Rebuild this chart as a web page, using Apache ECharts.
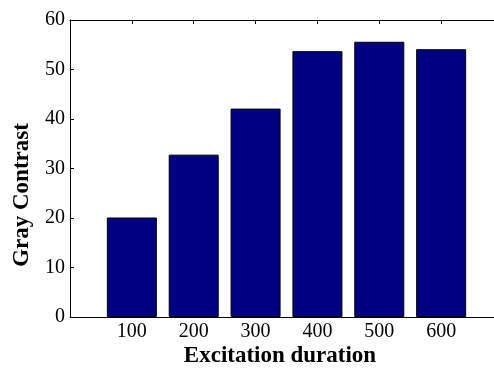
<!DOCTYPE html>
<html>
<head>
<meta charset="utf-8">
<script src="https://cdn.jsdelivr.net/npm/echarts@6/dist/echarts.min.js"></script>
<style>html,body{margin:0;padding:0;background:#fff;overflow:hidden}#c{width:494px;height:374px}</style>
</head>
<body>
<div id="c"></div>
<script>
var categories = [100, 200, 300, 400, 500, 600];
var grayContrast = [20.1, 32.8, 42.1, 53.7, 55.6, 54.1];
var yTicks = [0, 10, 20, 30, 40, 50, 60];
var xTitle = 'Excitation duration';
var yTitle = 'Gray Contrast';

var FONT = '"Liberation Serif", "Times New Roman", serif';
var chart = echarts.init(document.getElementById('c'), null, {renderer: 'canvas'});
var barData = categories.map(function (c, i) { return [c, grayContrast[i]]; });
var gridBox = {left: 70, top: 20, width: 433, height: 297, containLabel: false, outerBoundsMode: 'none'};

chart.setOption({
  animation: false,
  backgroundColor: '#fff',
  grid: [Object.assign({}, gridBox), Object.assign({}, gridBox)],
  xAxis: [{
    gridIndex: 0,
    type: 'value', min: 0, max: 700, interval: 100, position: 'bottom',
    axisLine: {show: true, onZero: false, lineStyle: {color: '#000', width: 1}},
    axisTick: {show: true, inside: true, length: 4, lineStyle: {color: '#000'}},
    splitLine: {show: false},
    axisLabel: {
      color: '#000', fontFamily: FONT, fontSize: 20, margin: 5,
      formatter: function (v) { return categories.indexOf(v) >= 0 ? String(v) : ''; }
    }
  }, {
    gridIndex: 1,
    type: 'value', min: 0, max: 700, interval: 100, position: 'top',
    axisLine: {show: true, onZero: false, lineStyle: {color: '#000', width: 1}},
    axisTick: {show: true, inside: true, length: 4, lineStyle: {color: '#000'}},
    splitLine: {show: false},
    axisLabel: {show: false}
  }],
  yAxis: [{
    gridIndex: 0,
    type: 'value', min: yTicks[0], max: yTicks[yTicks.length - 1], interval: 10,
    axisLine: {show: true, onZero: false, lineStyle: {color: '#000', width: 1}},
    axisTick: {show: true, inside: true, length: 4, lineStyle: {color: '#000'}},
    splitLine: {show: false},
    axisLabel: {color: '#000', fontFamily: FONT, fontSize: 20, margin: 5}
  }, {
    gridIndex: 1, show: false,
    type: 'value', min: yTicks[0], max: yTicks[yTicks.length - 1], interval: 10,
    axisLine: {show: false}, axisTick: {show: false}, axisLabel: {show: false}, splitLine: {show: false}
  }],
  graphic: [{
    type: 'text', x: 280, y: 356,
    style: {text: xTitle, x: 0, y: 0, textAlign: 'center', textVerticalAlign: 'middle',
      font: 'bold 23px ' + FONT, fill: '#000'}
  }, {
    type: 'text', x: 22, y: 195, rotation: Math.PI / 2,
    style: {text: yTitle, x: 0, y: 0, textAlign: 'center', textVerticalAlign: 'middle',
      font: 'bold 23px ' + FONT, fill: '#000'}
  }],
  series: [{
    type: 'bar', xAxisIndex: 0, yAxisIndex: 0,
    data: barData, barWidth: 50,
    itemStyle: {color: '#000080', borderColor: '#000', borderWidth: 1}
  }]
});
</script>
</body>
</html>
